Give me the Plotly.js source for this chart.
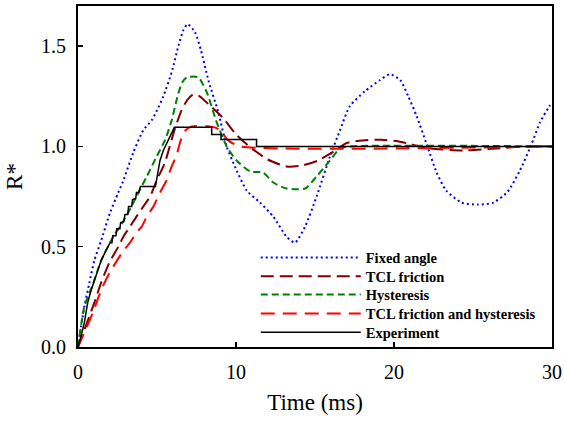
<!DOCTYPE html>
<html>
<head>
<meta charset="utf-8">
<script src="https://cdn.plot.ly/plotly-3.0.1.min.js"></script>
<style>html,body{margin:0;padding:0;background:#fff;}#chart{width:565px;height:423px;}</style>
</head>
<body>
<div id="chart"></div>
<script>
// ---- data (time in ms, R*) ----
const seriesNames = ["Fixed angle", "TCL friction", "Hysteresis", "TCL friction and hysteresis", "Experiment"];

const fixedX = [0, 0.19, 0.40, 0.72, 1.03, 1.46, 2.03, 2.55, 2.87, 3.5, 4.13, 4.66, 5.0, 5.4, 5.93, 6.35, 6.67, 6.94, 7.4, 7.78, 8.25, 8.88, 9.41, 10.04, 10.68, 11.52, 12.36, 13.2, 13.73, 14.37, 15.1, 15.95, 16.58, 17.2, 18.16, 19.1, 19.75, 20.4, 20.9, 21.44, 22.07, 22.7, 23.3, 24.28, 25.3, 26.3, 27.2, 27.97, 28.7, 29.24, 29.83, 30];
const fixedY = [0, 0.10, 0.20, 0.32, 0.43, 0.53, 0.67, 0.77, 0.83, 0.97, 1.08, 1.13, 1.18, 1.25, 1.37, 1.50, 1.58, 1.61, 1.57, 1.48, 1.33, 1.17, 1.00, 0.88, 0.78, 0.72, 0.65, 0.55, 0.52, 0.60, 0.75, 0.95, 1.08, 1.20, 1.275, 1.33, 1.36, 1.33, 1.25, 1.15, 1.01, 0.87, 0.78, 0.72, 0.71, 0.72, 0.775, 0.88, 1.01, 1.12, 1.20, 1.22];

const tclX = [0, 0.61, 1.03, 1.46, 1.98, 2.55, 2.87, 3.29, 3.7, 4.13, 4.56, 4.98, 5.5, 6.1, 6.5, 6.9, 7.3, 7.7, 8.4, 9.2, 10.0, 11.0, 12.0, 13.2, 14.2, 15.2, 16.2, 17.0, 18.0, 19.2, 20.3, 21.1, 22.3, 24.4, 26.5, 28.4, 30];
const tclY = [0, 0.13, 0.22, 0.32, 0.42, 0.50, 0.55, 0.60, 0.65, 0.70, 0.75, 0.83, 0.92, 1.08, 1.17, 1.23, 1.26, 1.25, 1.20, 1.14, 1.06, 0.99, 0.935, 0.90, 0.905, 0.93, 0.975, 1.017, 1.03, 1.033, 1.025, 1.01, 0.99, 0.98, 0.99, 1.0, 1.0];

const hysX = [0, 0.4, 0.93, 1.46, 2.23, 2.66, 3.18, 3.7, 4.35, 4.98, 5.5, 5.93, 6.3, 6.6, 6.9, 7.6, 8.15, 8.78, 9.41, 10.04, 10.9, 11.7, 12.36, 13.2, 14.37, 15.1, 15.95, 16.58, 17.2, 30];
const hysY = [0, 0.20, 0.31, 0.43, 0.55, 0.60, 0.67, 0.75, 0.85, 0.95, 1.03, 1.13, 1.25, 1.32, 1.345, 1.345, 1.27, 1.12, 1.00, 0.93, 0.875, 0.87, 0.82, 0.79, 0.79, 0.85, 0.93, 0.99, 1.0, 1.0];

const bothX = [0, 0.5, 0.93, 1.5, 2.0, 2.87, 3.29, 3.7, 4.03, 4.35, 4.77, 5.19, 5.6, 5.93, 6.25, 6.5, 6.8, 7.2, 8.2, 8.8, 9.2, 9.5, 10.25, 30];
const bothY = [0, 0.09, 0.17, 0.29, 0.37, 0.48, 0.52, 0.57, 0.60, 0.65, 0.70, 0.77, 0.83, 0.90, 0.96, 1.03, 1.08, 1.10, 1.10, 1.09, 1.06, 1.03, 1.0, 1.0];

const expX = [0, 0.08, 0.40, 0.61, 0.82, 1.14, 1.46, 1.7, 2.03, 2.15, 2.2, 2.4, 2.45, 2.65, 2.7, 2.9, 2.97, 3.15, 3.2, 3.4, 3.45, 3.65, 3.7, 3.85, 3.95, 4.9, 5.0, 5.19, 5.4, 5.72, 5.93, 6.1, 8.46, 8.46, 9.05, 9.05, 11.3, 11.3, 30];
const expY = [0, 0.02, 0.12, 0.22, 0.28, 0.35, 0.43, 0.47, 0.52, 0.52, 0.555, 0.555, 0.59, 0.59, 0.62, 0.625, 0.66, 0.66, 0.70, 0.70, 0.735, 0.74, 0.77, 0.77, 0.80, 0.80, 0.84, 0.93, 0.98, 1.03, 1.07, 1.095, 1.095, 1.06, 1.06, 1.035, 1.035, 1.0, 1.0];

const xTicks = [0, 10, 20, 30];
const yTicks = [0.0, 0.5, 1.0, 1.5];

// ---- styling ----
const serif = "Liberation Serif";
const legFont = {family: serif, size: 14.5, color: "#000", weight: "bold"};
const legendRows = [0.262, 0.2075, 0.154, 0.098, 0.043];

function mk(x, y, name, color, dash, width, legendId, spline) {
  return {
    x: x, y: y, name: name, type: "scatter", mode: "lines",
    line: {color: color, width: width, dash: dash, shape: spline ? "spline" : "linear", smoothing: 0.6},
    legend: legendId, hoverinfo: "skip"
  };
}

const traces = [
  mk(fixedX, fixedY, seriesNames[0], "#0000FF", "2px,3px", 2, "legend", true),
  mk(tclX, tclY, seriesNames[1], "#800000", "13px,6px", 2, "legend2", true),
  mk(hysX, hysY, seriesNames[2], "#008000", "7px,4px", 2, "legend3", true),
  mk(bothX, bothY, seriesNames[3], "#FF0000", "14px,8px", 2, "legend4", true),
  mk(expX, expY, seriesNames[4], "#000000", "solid", 1.5, "legend5", false)
];

function leg(i) {
  return {x: 0.375, xanchor: "left", y: legendRows[i], yanchor: "middle",
          bgcolor: "rgba(0,0,0,0)", borderwidth: 0, font: legFont, itemwidth: 100};
}

const layout = {
  width: 565, height: 423,
  margin: {l: 78, r: 13, t: 6, b: 76},
  paper_bgcolor: "#fff", plot_bgcolor: "#fff",
  showlegend: true,
  legend: leg(0), legend2: leg(1), legend3: leg(2), legend4: leg(3), legend5: leg(4),
  xaxis: {
    range: [0, 30], tickvals: xTicks, ticks: "inside", ticklen: 5, tickwidth: 1.5, tickcolor: "#000",
    showline: true, mirror: true, linecolor: "#000", linewidth: 2,
    showgrid: false, zeroline: false, automargin: false,
    tickfont: {family: serif, size: 20, color: "#000"}, ticklabelstandoff: 6,
    title: {text: "Time (ms)", font: {family: serif, size: 23, color: "#000"}, standoff: 12}
  },
  yaxis: {
    range: [0, 1.7], tickvals: yTicks, tickformat: ".1f", ticks: "inside", ticklen: 5, tickwidth: 1.5, tickcolor: "#000",
    showline: true, mirror: true, linecolor: "#000", linewidth: 2,
    showgrid: false, zeroline: false, automargin: false,
    tickfont: {family: serif, size: 20, color: "#000"}, ticklabelstandoff: 6,
    title: {text: "R*", font: {family: serif, size: 23, color: "#000"}, standoff: 12}
  }
};

Plotly.newPlot("chart", traces, layout, {staticPlot: true, displayModeBar: false});
</script>
</body>
</html>
